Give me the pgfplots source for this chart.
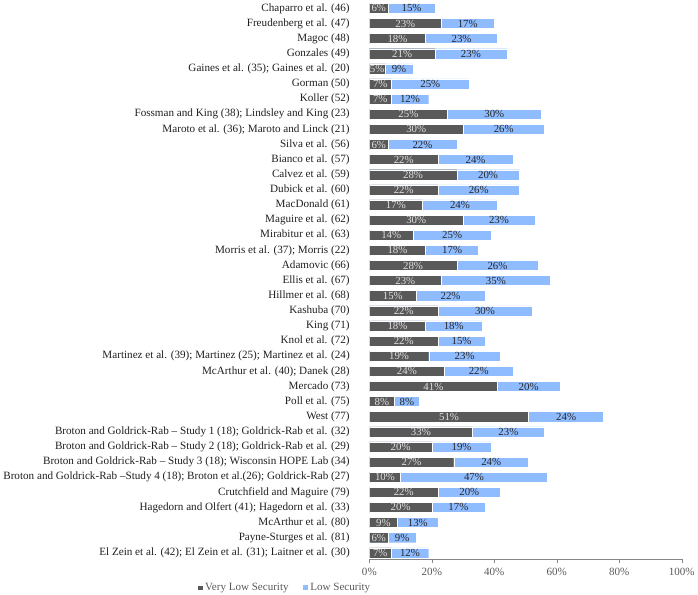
\documentclass[border=0pt]{standalone}
\usepackage{pgfplots}
\pgfplotsset{compat=1.18}
\usepackage{pgfplotstable}
\usepackage{fontspec}
\setmainfont{Liberation Serif}
\definecolor{vlsc}{RGB}{89,89,89}
\definecolor{lsc}{RGB}{143,188,255}
\definecolor{axc}{RGB}{134,134,134}
\definecolor{txtg}{RGB}{89,89,89}

% idx 36 = top row
\pgfplotstableread{
idx vls ls
36 6 15
35 23 17
34 18 23
33 21 23
32 5 9
31 7 25
30 7 12
29 25 30
28 30 26
27 6 22
26 22 24
25 28 20
24 22 26
23 17 24
22 30 23
21 14 25
20 18 17
19 28 26
18 23 35
17 15 22
16 22 30
15 18 18
14 22 15
13 19 23
12 24 22
11 41 20
10 8 8
9 51 24
8 33 23
7 20 19
6 27 24
5 10 47
4 22 20
3 20 17
2 9 13
1 6 9
0 7 12
}\data

\begin{document}
\begin{tikzpicture}
\begin{axis}[
  scale only axis,
  width=310bp, height=553bp,
  xmin=0, xmax=100,
  ymin=-0.4, ymax=36.45,
  axis x line*=bottom,
  axis y line*=left,
  y axis line style={draw=none},
  x axis line style={draw=axc},
  xtick={0,20,40,60,80,100},
  xtick style={draw=axc},
  tick align=outside,
  major tick length=4bp,
  xticklabel={\pgfmathprintnumber{\tick}\%},
  /pgf/number format/assume math mode=true,
  xticklabel style={font=\fontsize{11}{12}\selectfont, text=txtg, yshift=-2bp},
  ytick={0,...,36},
  ytick style={draw=none},
  yticklabel style={font=\fontsize{11.1}{12}\selectfont, text=black!88, xshift=-12bp},
  yticklabels={
    {El Zein et al. (42); El Zein et al. (31); Laitner et al. (30)},
    {Payne-Sturges et al. (81)},
    {McArthur et al. (80)},
    {Hagedorn and Olfert (41); Hagedorn et al. (33)},
    {Crutchfield and Maguire (79)},
    {Broton and Goldrick-Rab –Study 4 (18); Broton et al.(26); Goldrick-Rab (27)},
    {Broton and Goldrick-Rab – Study 3 (18); Wisconsin HOPE Lab (34)},
    {Broton and Goldrick-Rab – Study 2 (18); Goldrick-Rab et al. (29)},
    {Broton and Goldrick-Rab – Study 1 (18); Goldrick-Rab et al. (32)},
    {West (77)},
    {Poll et al. (75)},
    {Mercado (73)},
    {McArthur et al. (40); Danek (28)},
    {Martinez et al. (39); Martinez (25); Martinez et al. (24)},
    {Knol et al. (72)},
    {King (71)},
    {Kashuba (70)},
    {Hillmer et al. (68)},
    {Ellis et al. (67)},
    {Adamovic (66)},
    {Morris et al. (37); Morris (22)},
    {Mirabitur et al. (63)},
    {Maguire et al. (62)},
    {MacDonald (61)},
    {Dubick et al. (60)},
    {Calvez et al. (59)},
    {Bianco et al. (57)},
    {Silva et al. (56)},
    {Maroto et al. (36); Maroto and Linck (21)},
    {Fossman and King (38); Lindsley and King (23)},
    {Koller (52)},
    {Gorman (50)},
    {Gaines et al. (35); Gaines et al. (20)},
    {Gonzales (49)},
    {Magoc (48)},
    {Freudenberg et al. (47)},
    {Chaparro et al. (46)}
  },
  legend image code/.code={\fill[#1] (0bp,-2.8bp) rectangle (5.6bp,2.8bp);},
  legend style={draw=none, legend columns=2, font=\fontsize{11}{12}\selectfont, text=txtg,
    at={(axis description cs:-0.271,0)}, anchor=north, yshift=-22bp,
    /tikz/every even column/.append style={column sep=12bp},
    inner sep=0pt},
]
\addplot[xbar, bar width=10bp, bar shift=0pt, fill=lsc, draw=white, line width=0.4pt, forget plot]
  table[x expr=\thisrow{vls}+\thisrow{ls}, y=idx]{\data};
\addplot[xbar, bar width=10bp, bar shift=0pt, fill=vlsc, draw=white, line width=0.4pt]
  table[x=vls, y=idx]{\data};
\addlegendentry{Very Low Security}
\addlegendimage{fill=lsc, draw=none}
\addlegendentry{Low Security}

\addplot[draw=none, forget plot, point meta=explicit,
  nodes near coords={\pgfmathprintnumber{\pgfplotspointmeta}\%},
  every node near coord/.append style={anchor=center, inner sep=0pt, font=\fontsize{10.8}{12}\selectfont, text=white!88!black}]
  table[x expr=\thisrow{vls}/2, y=idx, meta=vls]{\data};
\addplot[draw=none, forget plot, point meta=explicit,
  nodes near coords={\pgfmathprintnumber{\pgfplotspointmeta}\%},
  every node near coord/.append style={anchor=center, inner sep=0pt, font=\fontsize{10.8}{12}\selectfont, text=black!85}]
  table[x expr=\thisrow{vls}+\thisrow{ls}/2, y=idx, meta=ls]{\data};
\end{axis}
\end{tikzpicture}
\end{document}
